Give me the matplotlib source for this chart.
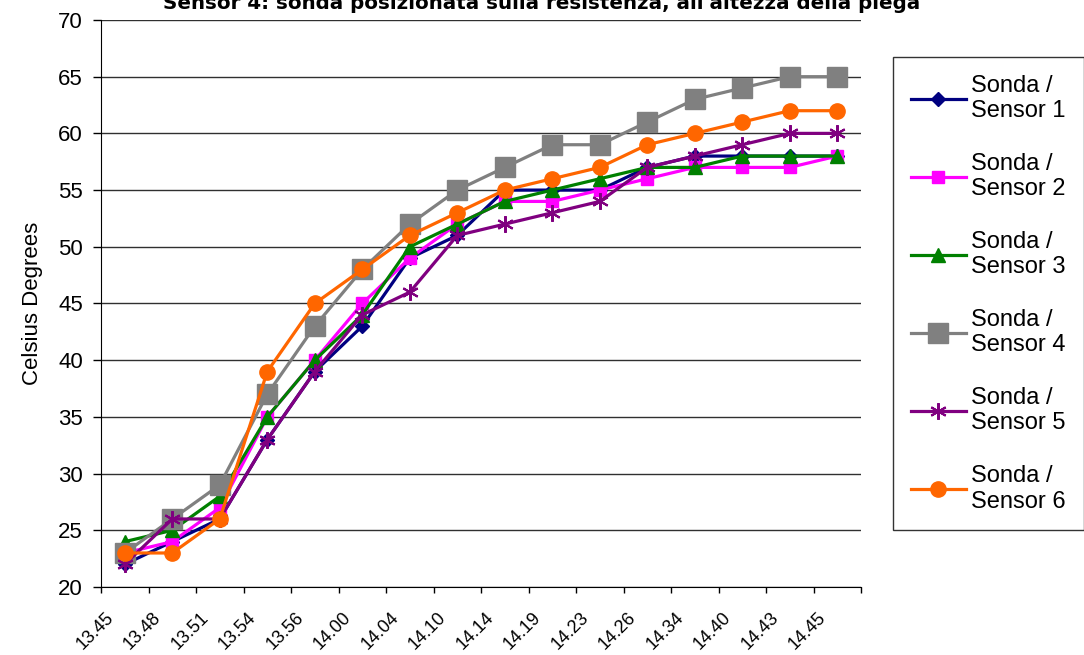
import matplotlib
matplotlib.use("Agg")
import matplotlib.pyplot as plt

plt.rcParams['font.family'] = ['Liberation Sans', 'DejaVu Sans']

# time stamps of the readings
times = ["13.45", "13.48", "13.51", "13.54", "13.56", "14.00", "14.04", "14.10",
         "14.14", "14.19", "14.23", "14.26", "14.34", "14.40", "14.43", "14.45"]

sensor1 = [22, 24, 26, 33, 39, 43, 49, 51, 55, 55, 55, 57, 58, 58, 58, 58]
sensor2 = [23, 24, 27, 35, 40, 45, 49, 52, 54, 54, 55, 56, 57, 57, 57, 58]
sensor3 = [24, 25, 28, 35, 40, 44, 50, 52, 54, 55, 56, 57, 57, 58, 58, 58]
sensor4 = [23, 26, 29, 37, 43, 48, 52, 55, 57, 59, 59, 61, 63, 64, 65, 65]
sensor5 = [22, 26, 26, 33, 39, 44, 46, 51, 52, 53, 54, 57, 58, 59, 60, 60]
sensor6 = [23, 23, 26, 39, 45, 48, 51, 53, 55, 56, 57, 59, 60, 61, 62, 62]

labels = ["Sonda /\nSensor 1", "Sonda /\nSensor 2", "Sonda /\nSensor 3",
          "Sonda /\nSensor 4", "Sonda /\nSensor 5", "Sonda /\nSensor 6"]

fig = plt.figure(figsize=(10.84, 6.55), dpi=100)
ax = fig.add_axes([0.0932, 0.1038, 0.7011, 0.8657])

x = list(range(len(times)))
lw = 2.3
ax.plot(x, sensor1, color='#000080', lw=lw, marker='D', ms=7, label=labels[0])
ax.plot(x, sensor2, color='#FF00FF', lw=lw, marker='s', ms=8.5, label=labels[1])
ax.plot(x, sensor3, color='#008000', lw=lw, marker='^', ms=10, label=labels[2])
ax.plot(x, sensor4, color='#808080', lw=lw, marker='s', ms=14, label=labels[3])
ax.plot(x, sensor5, color='#800080', lw=lw, marker=(6, 2, 0), ms=12, mew=1.5, label=labels[4])
ax.plot(x, sensor6, color='#FF6600', lw=lw, marker='o', ms=11, label=labels[5])

ax.set_xlim(-0.5, len(times) - 0.5)
ax.set_ylim(20, 70)
ax.set_yticks(range(20, 75, 5))
ax.yaxis.grid(True, color='#303030', lw=1)
ax.set_axisbelow(True)

# ticks between categories, labels on the categories (nudged left a little, like Excel)
ax.set_xticks([i - 0.5 for i in range(len(times) + 1)])
ax.set_xticklabels([])
ax.set_xticks([i - 0.42 for i in x], minor=True)
ax.set_xticklabels(times, minor=True, rotation=45, ha='right', va='top',
                   rotation_mode='anchor', fontsize=13)
ax.tick_params(axis='x', which='major', length=4, width=1, direction='out')
ax.tick_params(axis='x', which='minor', length=0, pad=16)
ax.tick_params(axis='y', length=6, width=1, labelsize=16, pad=7)

for s in ['top', 'right']:
    ax.spines[s].set_visible(False)
ax.spines['left'].set_color('black')
ax.spines['bottom'].set_color('black')

ax.set_ylabel("Celsius Degrees", fontsize=16, labelpad=11)

fig.text(0.50, 1 - 9 / 655, "Sensor 4: sonda posizionata sulla resistenza, all'altezza della piega",
         ha='center', va='baseline', fontsize=14.3, fontweight='bold', family='DejaVu Sans')

leg = fig.legend(loc='upper left', bbox_to_anchor=(893 / 1084, 1 - 57 / 655),
                 fontsize=17, frameon=True, fancybox=False, edgecolor='black',
                 handlelength=2.35, handletextpad=0.22, labelspacing=1.3,
                 borderpad=0.75, borderaxespad=0)
leg.get_frame().set_linewidth(1)

fig.savefig("out.png", dpi=100)
